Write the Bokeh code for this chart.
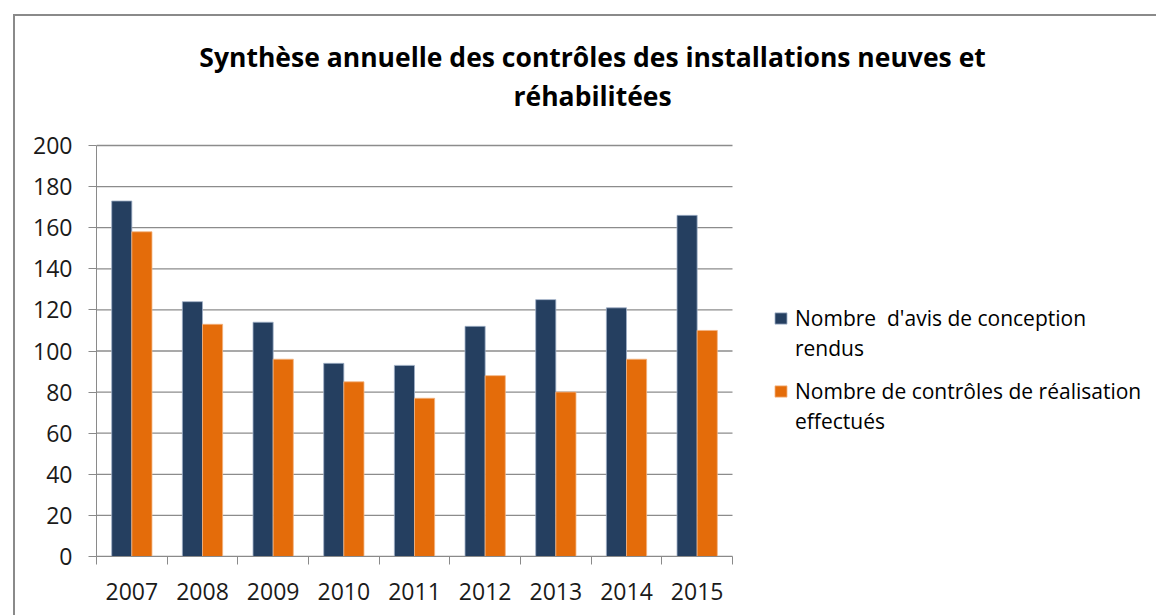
from bokeh.plotting import figure
from bokeh.models import (Range1d, FixedTicker, Label, Legend, LegendItem,
                          ColumnDataSource)
from bokeh.transform import dodge
from bokeh.embed import file_html
from bokeh.resources import INLINE

# ---- data ----
years = ["2007", "2008", "2009", "2010", "2011", "2012", "2013", "2014", "2015"]
avis_conception = [173, 124, 114, 94, 93, 112, 125, 121, 166]
controles_realisation = [158, 113, 96, 85, 77, 88, 80, 96, 110]
y_ticks = [0, 20, 40, 60, 80, 100, 120, 140, 160, 180, 200]
title_lines = ["Synthèse annuelle des contrôles des installations neuves et",
               "réhabilitées"]
legend_lines_1 = ["Nombre  d'avis de conception", "rendus"]
legend_lines_2 = ["Nombre de contrôles de réalisation", "effectués"]

BLUE = "#253F60"
ORANGE = "#E46C0A"
GRID = "#8c8c8c"
FONT = "Open Sans"

n = len(years)
y_max = y_ticks[-1]

# ---- layout geometry (pixels) ----
W, H = 1156, 615
LEFT, BOTTOM = 96, 59
PLOT_W, PLOT_H = 636, 411          # width / height of the bar area
FRAME_W, FRAME_H = W - LEFT, H - BOTTOM
x_end = n * FRAME_W / PLOT_W
y_end = y_max * FRAME_H / PLOT_H

centers = [i + 0.5 for i in range(n)]
src = ColumnDataSource(dict(x=centers, avis=avis_conception,
                            ctrl=controles_realisation, year=years))

p = figure(width=W, height=H, output_backend="svg", toolbar_location=None,
           x_range=Range1d(0, x_end), y_range=Range1d(0, y_end),
           min_border_left=LEFT, min_border_right=0, min_border_top=0,
           min_border_bottom=BOTTOM)
# chart-area frame line (left and top) drawn behind a transparent canvas
p.styles = {"background": "linear-gradient(#8a8a8a, #8a8a8a) 13px 14px / 2px 100% no-repeat, "
                          "linear-gradient(#8a8a8a, #8a8a8a) 13px 14px / 100% 2px no-repeat"}
p.outline_line_color = None
p.background_fill_alpha = 0
p.border_fill_alpha = 0
p.xgrid.grid_line_color = None
p.ygrid.grid_line_color = None

# horizontal gridlines over the category span
p.segment(x0=[0] * len(y_ticks), x1=[n] * len(y_ticks), y0=y_ticks, y1=y_ticks,
          line_color=GRID, line_width=1.3)

bw = 0.285
r1 = p.vbar(x=dodge("x", -bw / 2, range=p.x_range), top="avis", width=bw,
            source=src, fill_color=BLUE, line_color="#9fb0c6", line_width=0.8)
r2 = p.vbar(x=dodge("x", bw / 2, range=p.x_range), top="ctrl", width=bw,
            source=src, fill_color=ORANGE, line_color="#f3b27f", line_width=0.8)
blank = p.rect(x=[], y=[], width=1, height=1, fill_alpha=0, line_alpha=0)

# axes
xa = p.xaxis[0]
xa.bounds = (0, n)
xa.ticker = FixedTicker(ticks=centers, minor_ticks=list(range(n + 1)))
xa.major_label_overrides = {c: y for c, y in zip(centers, years)}
xa.major_tick_out = 0
xa.major_tick_in = 0
xa.minor_tick_out = 8
xa.minor_tick_in = 0
xa.minor_tick_line_color = "#8a8a8a"
xa.axis_line_color = "#8a8a8a"
xa.major_label_standoff = 18
xa.major_label_text_font = FONT
xa.major_label_text_font_size = "23px"
xa.major_label_text_color = "#1a1a1a"

ya = p.yaxis[0]
ya.bounds = (0, y_max)
ya.ticker = FixedTicker(ticks=y_ticks)
ya.major_tick_out = 8
ya.major_tick_in = 0
ya.minor_tick_line_color = None
ya.major_tick_line_color = "#8a8a8a"
ya.axis_line_color = "#8a8a8a"
ya.major_label_standoff = 16
ya.major_label_text_font = FONT
ya.major_label_text_font_size = "23px"
ya.major_label_text_color = "#1a1a1a"

# title: two centred lines
for txt, yy in zip(title_lines, [243.3, 224.3]):
    p.add_layout(Label(x=7.02, y=yy, text=txt, text_align="center",
                       text_baseline="middle", text_font=FONT,
                       text_font_style="bold", text_font_size="26.5px",
                       text_color="#000000"))

# legends (two blocks, each with a wrapped second line)
def make_legend(lines, rend, loc):
    items = [LegendItem(label=lines[0], renderers=[rend]),
             LegendItem(label=lines[1], renderers=[blank])]
    return Legend(items=items, location=loc, orientation="vertical",
                  border_line_color=None, background_fill_alpha=0,
                  padding=0, margin=0, spacing=0, label_height=30,
                  glyph_width=15, glyph_height=14, label_standoff=7,
                  label_text_font=FONT, label_text_font_size="21px",
                  label_text_color="#000000")

p.add_layout(make_legend(legend_lines_1, r1, (677, 193)))
p.add_layout(make_legend(legend_lines_2, r2, (677, 120)))

open("out.html", "w").write(file_html(p, INLINE))
